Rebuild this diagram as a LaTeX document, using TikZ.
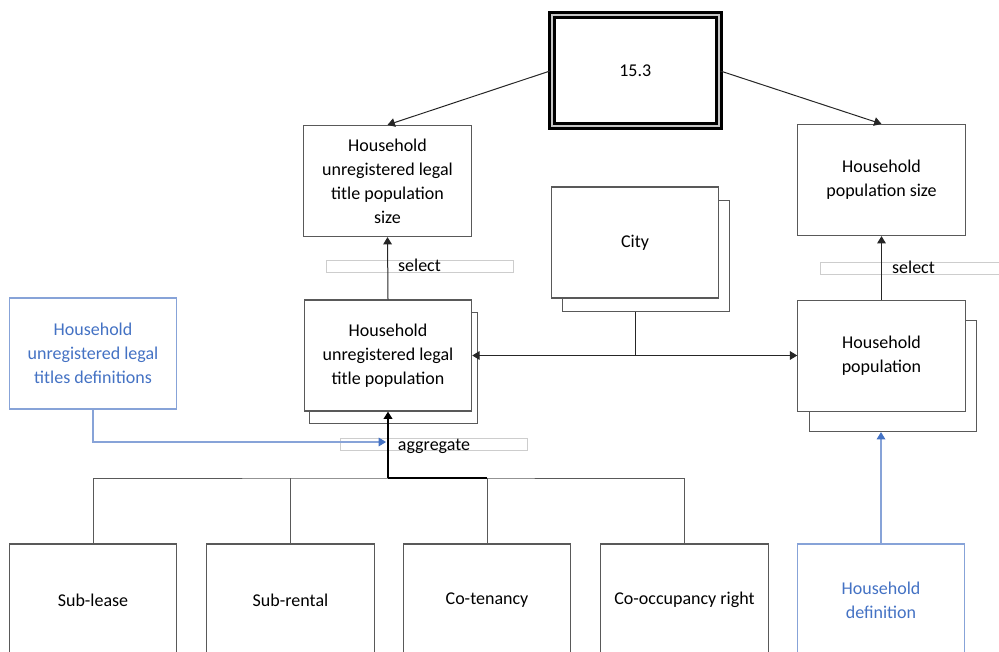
\documentclass[tikz,border=0pt]{standalone}
\usepackage{fontspec}
\setmainfont{Carlito}
\usetikzlibrary{arrows.meta}
\definecolor{boxgray}{RGB}{89,89,89}
\definecolor{defblue}{RGB}{68,114,196}
\definecolor{defline}{RGB}{135,163,216}
\definecolor{labgray}{RGB}{205,205,205}
\tikzset{
  box/.style={draw=boxgray, line width=0.9pt, fill=white, minimum width=125.5pt,
    minimum height=83.25pt, align=center, inner sep=2pt,
    font=\fontsize{13.5}{18}\selectfont},
  topbox/.style={box, draw=black, double=gray!45, line width=2.25pt,
    double distance=1.5pt, minimum width=125.6pt},
  defbox/.style={box, draw=defline, text=defblue},
  lab/.style={draw=labgray, line width=0.6pt, minimum width=140.25pt,
    minimum height=9pt, inner sep=0pt, text height=9pt, text depth=0pt,
    font=\fontsize{13.5}{18}\selectfont},
  link/.style={draw=black!85, line width=0.75pt},
  deflink/.style={draw=defline, line width=0.9pt,
    -{Triangle[length=5.5pt,width=6.5pt,color=defblue]}}
}
\begin{document}
\begin{tikzpicture}[x=0.75pt, y=-0.75pt, >={Triangle[length=5.5pt,width=6.5pt]}]
  \useasboundingbox (0,0) rectangle (999,652);
  \clip (0,0) rectangle (999,652);
  % top
  \node[topbox] (top) at (635.25,71) {15.3};
  % size boxes
  \node[box] (usize) at (387.5,181) {Household\\unregistered legal\\title population\\size};
  \node[box] (psize) at (881.5,180) {Household\\population size};
  % populations, each with a sheet behind
  \node[box] (ubk) at (393.5,368) {};
  \node[box] (upop) at (388,355.5) {Household\\unregistered legal\\title population};
  \node[box] (cbk) at (646,256) {};
  \node[box] (city) at (635,242.5) {City};
  \node[box] (pbk) at (893,376) {};
  \node[box] (pop) at (881.5,356) {Household\\population};
  % definitions
  \node[defbox] (udef) at (93,353.5) {Household\\unregistered legal\\titles definitions};
  \node[defbox, minimum height=84pt] (pdef) at (881,600) {Household\\definition};
  % legal titles
  \node[box, minimum height=84pt] (sublease) at (93,600) {Sub-lease};
  \node[box, minimum height=84pt] (subrental) at (290.5,600) {Sub-rental};
  \node[box, minimum height=84pt] (cotenancy) at (487,600) {Co-tenancy};
  \node[box, minimum height=84pt] (coright) at (684.5,600) {Co-occupancy right};
  % operation labels
  \node[lab] (sel1) at (419.5,266) {select};
  \node[lab] (sel2) at (913.5,268) {select};
  \node[lab] (agg) at (434,444.5) {aggregate};
  % from 15.3
  \draw[link, ->] (top.west) -- (usize.north);
  \draw[link, ->] (top.east) -- (psize.north);
  % select
  \draw[link, ->] (upop.north) -- (usize.south);
  \draw[link, ->] (pop.north) -- (psize.south);
  % city
  \coordinate (cj) at (city.south |- upop.east);
  \draw[link] (city.south |- cbk.south) -- (cj);
  \draw[link, ->] (cj) -- (upop.east);
  \draw[link, ->] (cj) -- (cj -| pop.west);
  % definitions
  \coordinate (aj) at (386,442);
  \draw[deflink] (udef.south) |- (aj);
  \draw[deflink] (pdef.north) -- (pdef.north |- pbk.south);
  % aggregate
  \coordinate (tj) at (388,478);
  \draw[link, draw=boxgray] (sublease.north) |- (tj) -| (coright.north);
  \draw[link, draw=boxgray] (subrental.north) -- (subrental.north |- tj);
  \draw[link, draw=boxgray] (cotenancy.north) -- (cotenancy.north |- tj);
  \draw[link, draw=black, line width=1.2pt] (cotenancy.north |- tj) -- (tj);
  \draw[link, draw=black, line width=1.2pt, ->] (tj) -- (upop.south);
\end{tikzpicture}
\end{document}
